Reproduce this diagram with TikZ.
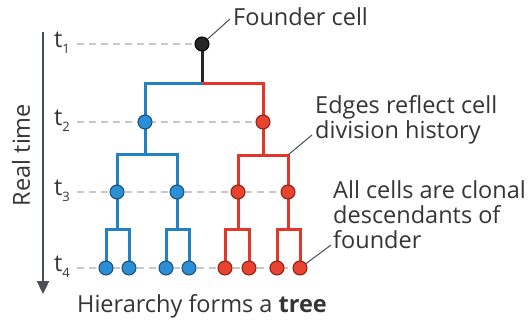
\documentclass[tikz,border=0pt]{standalone}
\usepackage{fontspec}
\setmainfont{Open Sans}
\usetikzlibrary{backgrounds,arrows.meta}
\definecolor{txt}{HTML}{353535}
\definecolor{axisgray}{HTML}{4A4F55}
\definecolor{dashgray}{HTML}{C8C8C8}
\definecolor{bluel}{HTML}{2281C4}
\definecolor{bluef}{HTML}{2A8FD6}
\definecolor{bluer}{HTML}{1B4C73}
\definecolor{redl}{HTML}{E2372A}
\definecolor{redf}{HTML}{E8432F}
\definecolor{redr}{HTML}{8C2016}
\tikzset{
  x=1pt, y=-1pt,
  cellb/.style={circle, inner sep=0pt, minimum size=14pt, fill=bluef, draw=bluer, line width=1pt},
  cellr/.style={circle, inner sep=0pt, minimum size=14pt, fill=redf, draw=redr, line width=1pt},
  cellk/.style={circle, inner sep=0pt, minimum size=14pt, fill=black!85, draw=black, line width=1pt},
  eb/.style={draw=bluel, line width=3pt},
  er/.style={draw=redl, line width=3pt},
  ek/.style={draw=black!85, line width=3pt},
  guide/.style={draw=dashgray, line width=1.8pt, dash pattern=on 7pt off 5pt},
  lead/.style={draw=axisgray, line width=1pt},
  lbl/.style={text=txt, font=\fontsize{23.5}{25}\selectfont, inner sep=0pt, align=left},
  tl/.style={text=txt, font=\fontsize{23.5}{25}\selectfont, inner sep=0pt},
}
\newcommand{\tsub}[1]{t\raisebox{-0.45ex}{\fontsize{13}{13}\selectfont #1}}
\begin{document}
\begin{tikzpicture}
\useasboundingbox (0,0) rectangle (529,323);

% time axis
\coordinate (ax0) at (43,32);
\coordinate (ax1) at (43,294);
\draw[axisgray, line width=2.4pt, -{Triangle[length=13pt,width=12pt]}] (ax0) -- (ax1);
\node[tl, rotate=90] (rt) at (21,155) {Real time};

% time labels
\node[tl] (t1) at (62,43) {\tsub{1}};
\node[tl] (t2) at (62,121) {\tsub{2}};
\node[tl] (t3) at (62,191) {\tsub{3}};
\node[tl] (t4) at (62,267) {\tsub{4}};
\coordinate (g1) at (77,44);
\coordinate (g2) at (77,122);
\coordinate (g3) at (77,192);
\coordinate (g4) at (77,268);

% cells
\node[cellk] (f) at (202,44) {};
\node[cellb] (b2) at (145,122) {};
\node[cellr] (r2) at (263,122) {};
\node[cellb] (b3a) at (117,192) {};
\node[cellb] (b3b) at (177,192) {};
\node[cellr] (r3a) at (238,192) {};
\node[cellr] (r3b) at (288,192) {};
\node[cellb] (l1) at (106,268) {};
\node[cellb] (l2) at (129,268) {};
\node[cellb] (l3) at (166,268) {};
\node[cellb] (l4) at (189,268) {};
\node[cellr] (l5) at (225,268) {};
\node[cellr] (l6) at (249,268) {};
\node[cellr] (l7) at (277,268) {};
\node[cellr] (l8) at (300,268) {};

% branch points
\coordinate (j1) at (202,84);
\coordinate (jb2) at (145,154);
\coordinate (jr2) at (263,155);
\coordinate (jb3a) at (117,229);
\coordinate (jb3b) at (177,229);
\coordinate (jr3a) at (238,229);
\coordinate (jr3b) at (288,229);

\begin{scope}[on background layer]
  \fill[white] (0,0) rectangle (529,323);
  % guides for each generation
  \draw[guide] (g1) -- (f);
  \draw[guide] (g2) -- (r2);
  \draw[guide] (g3) -- (r3b);
  \draw[guide] (g4) -- (l8);
  % division history
  \draw[ek] (f.center) -- (j1);
  \draw[eb] (j1) -| (b2.center);
  \draw[er] (j1) -| (r2.center);
  \draw[eb] (b2.center) -- (jb2);
  \draw[eb] (jb2) -| (b3a.center);
  \draw[eb] (jb2) -| (b3b.center);
  \draw[er] (r2.center) -- (jr2);
  \draw[er] (jr2) -| (r3a.center);
  \draw[er] (jr2) -| (r3b.center);
  \draw[eb] (b3a.center) -- (jb3a);
  \draw[eb] (jb3a) -| (l1.center);
  \draw[eb] (jb3a) -| (l2.center);
  \draw[eb] (b3b.center) -- (jb3b);
  \draw[eb] (jb3b) -| (l3.center);
  \draw[eb] (jb3b) -| (l4.center);
  \draw[er] (r3a.center) -- (jr3a);
  \draw[er] (jr3a) -| (l5.center);
  \draw[er] (jr3a) -| (l6.center);
  \draw[er] (r3b.center) -- (jr3b);
  \draw[er] (jr3b) -| (l7.center);
  \draw[er] (jr3b) -| (l8.center);
\end{scope}

% annotations
\node[lbl, anchor=west] (fc) at (233,17) {Founder cell};
\coordinate (fce) at (230,19);
\draw[lead] (f) -- (fce);

\node[lbl, anchor=west] (ed) at (315,120) {Edges reflect cell\\division history};
\coordinate (ede) at (312,135);
\coordinate (edc) at (jr2 -| r3b);
\draw[lead] (edc) -- (ede);

\node[lbl, anchor=west] (ac) at (333,215) {All cells are clonal\\descendants of\\founder};
\coordinate (ace) at (331,245);
\draw[lead] (l8) -- (ace);

\node[tl] (cap) at (202,306) {Hierarchy forms a \textbf{tree}};
\end{tikzpicture}
\end{document}
